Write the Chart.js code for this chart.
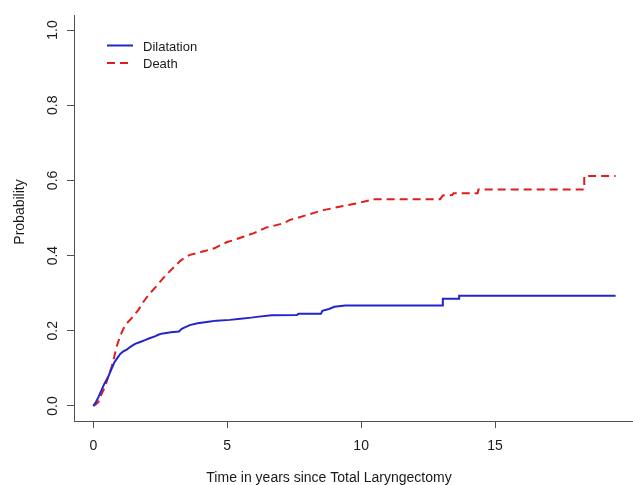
<!DOCTYPE html>
<html><head><meta charset="utf-8">
<script src="https://cdn.jsdelivr.net/npm/chart.js@4.4.1/dist/chart.umd.min.js"></script>
<style>html,body{margin:0;padding:0;background:#fff;}canvas{display:block;}</style>
</head><body>
<canvas id="c" width="633" height="485"></canvas>
<script>
const seriesNames = ['Dilatation', 'Death'];
// curve vertices (time in years, cumulative probability)
const dilTime = [0,0.1,0.2,0.31,0.42,0.56,0.67,0.78,0.9,1.0,1.12,1.25,1.4,1.56,1.75,1.93,2.1,2.3,2.45,2.6,2.9,3.2,3.3,3.42,3.6,3.9,4.3,4.6,5.1,5.5,5.9,6.1,6.66,7.6,7.66,8.5,8.55,8.8,9.0,9.4,13.05,13.05,13.66,13.66,19.5];
const dilProb = [0,0.01,0.025,0.043,0.06,0.078,0.097,0.115,0.128,0.138,0.145,0.15,0.158,0.165,0.17,0.175,0.18,0.185,0.19,0.193,0.196,0.198,0.205,0.209,0.215,0.22,0.224,0.227,0.229,0.232,0.235,0.237,0.241,0.242,0.245,0.245,0.253,0.258,0.264,0.267,0.267,0.285,0.285,0.293,0.293];
const deathTime = [0,0.1,0.19,0.3,0.44,0.56,0.69,0.78,0.87,1.0,1.12,1.25,1.45,1.68,1.9,2.12,2.35,2.61,2.85,3.05,3.25,3.42,3.61,3.85,4.05,4.3,4.54,4.8,5.0,5.23,5.6,5.97,6.2,6.47,6.72,7.1,7.34,7.6,7.97,8.3,8.59,9.0,9.33,9.84,10.2,10.46,12.95,13.05,13.4,13.45,14.35,14.38,18.33,18.33,19.5];
const deathProb = [0,0.005,0.01,0.03,0.051,0.078,0.105,0.13,0.158,0.185,0.205,0.22,0.235,0.255,0.28,0.3,0.318,0.34,0.358,0.372,0.386,0.395,0.402,0.406,0.41,0.415,0.42,0.43,0.436,0.441,0.45,0.459,0.466,0.475,0.479,0.486,0.495,0.5,0.508,0.515,0.521,0.527,0.532,0.539,0.545,0.55,0.55,0.56,0.561,0.566,0.566,0.576,0.576,0.612,0.612];
const xTicks = [0, 5, 10, 15];
const xTickLabels = ['0', '5', '10', '15'];
const yTicks = [0, 0.2, 0.4, 0.6, 0.8, 1.0];
const yTickLabels = ['0.0', '0.2', '0.4', '0.6', '0.8', '1.0'];
const xTitle = 'Time in years since Total Laryngectomy';
const yTitle = 'Probability';

const BLUE = '#2424cc';
const RED = '#e01c1c';
const AXIS = '#505050';
const TEXT = '#1a1a1a';
const FONT = '"Liberation Sans", Arial, sans-serif';

const textPlugin = {
  id: 'rtext',
  afterDraw(chart) {
    const ctx = chart.ctx;
    const xs = chart.scales.x, ys = chart.scales.y;
    ctx.save();
    ctx.fillStyle = TEXT;
    ctx.font = '14px ' + FONT;
    ctx.textAlign = 'center';
    ctx.textBaseline = 'alphabetic';
    xTicks.forEach((v, i) => {
      ctx.fillText(xTickLabels[i], xs.getPixelForValue(v), 450);
    });
    yTicks.forEach((v, i) => {
      ctx.save();
      ctx.translate(57, ys.getPixelForValue(v));
      ctx.rotate(-Math.PI / 2);
      ctx.fillText(yTickLabels[i], 0, 0);
      ctx.restore();
    });
    ctx.fillText(xTitle, 329, 482);
    ctx.save();
    ctx.translate(24, 212);
    ctx.rotate(-Math.PI / 2);
    ctx.fillText(yTitle, 0, 0);
    ctx.restore();
    // legend
    ctx.font = '13px ' + FONT;
    ctx.textAlign = 'left';
    ctx.textBaseline = 'middle';
    ctx.lineWidth = 2;
    ctx.strokeStyle = BLUE;
    ctx.beginPath(); ctx.moveTo(107, 45.5); ctx.lineTo(133, 45.5); ctx.stroke();
    ctx.strokeStyle = RED;
    ctx.setLineDash([8, 5]);
    ctx.beginPath(); ctx.moveTo(107, 63); ctx.lineTo(133, 63); ctx.stroke();
    ctx.setLineDash([]);
    ctx.fillText(seriesNames[0], 143, 47);
    ctx.fillText(seriesNames[1], 143, 64);
    ctx.restore();
  }
};

function toPts(t, p) { return t.map((v, i) => ({ x: v, y: p[i] })); }

new Chart(document.getElementById('c'), {
  type: 'line',
  data: {
    datasets: [
      { label: seriesNames[0], data: toPts(dilTime, dilProb), borderColor: BLUE, borderWidth: 2, tension: 0, pointRadius: 0, fill: false, borderJoinStyle: 'miter' },
      { label: seriesNames[1], data: toPts(deathTime, deathProb), borderColor: RED, borderWidth: 2, borderDash: [8, 5], tension: 0, pointRadius: 0, fill: false, borderJoinStyle: 'miter' }
    ]
  },
  options: {
    responsive: false,
    animation: false,
    devicePixelRatio: 1,
    events: [],
    layout: { padding: { top: 15, right: 0, left: 0, bottom: 0 } },
    plugins: { legend: { display: false }, tooltip: { enabled: false } },
    scales: {
      x: {
        type: 'linear', min: -0.72, max: 20.15,
        afterBuildTicks: s => { s.ticks = xTicks.map(v => ({ value: v })); },
        afterFit: s => { s.height = 64; },
        ticks: { display: false },
        grid: { display: true, drawOnChartArea: false, drawTicks: true, tickLength: 7, color: AXIS, lineWidth: 1 },
        border: { display: true, color: AXIS, width: 1 }
      },
      y: {
        type: 'linear', min: -0.04, max: 1.04,
        afterBuildTicks: s => { s.ticks = yTicks.map(v => ({ value: v })); },
        afterFit: s => { s.width = 74; },
        ticks: { display: false },
        grid: { display: true, drawOnChartArea: false, drawTicks: true, tickLength: 7, color: AXIS, lineWidth: 1 },
        border: { display: true, color: AXIS, width: 1 }
      }
    }
  },
  plugins: [textPlugin]
});
</script>
</body></html>
